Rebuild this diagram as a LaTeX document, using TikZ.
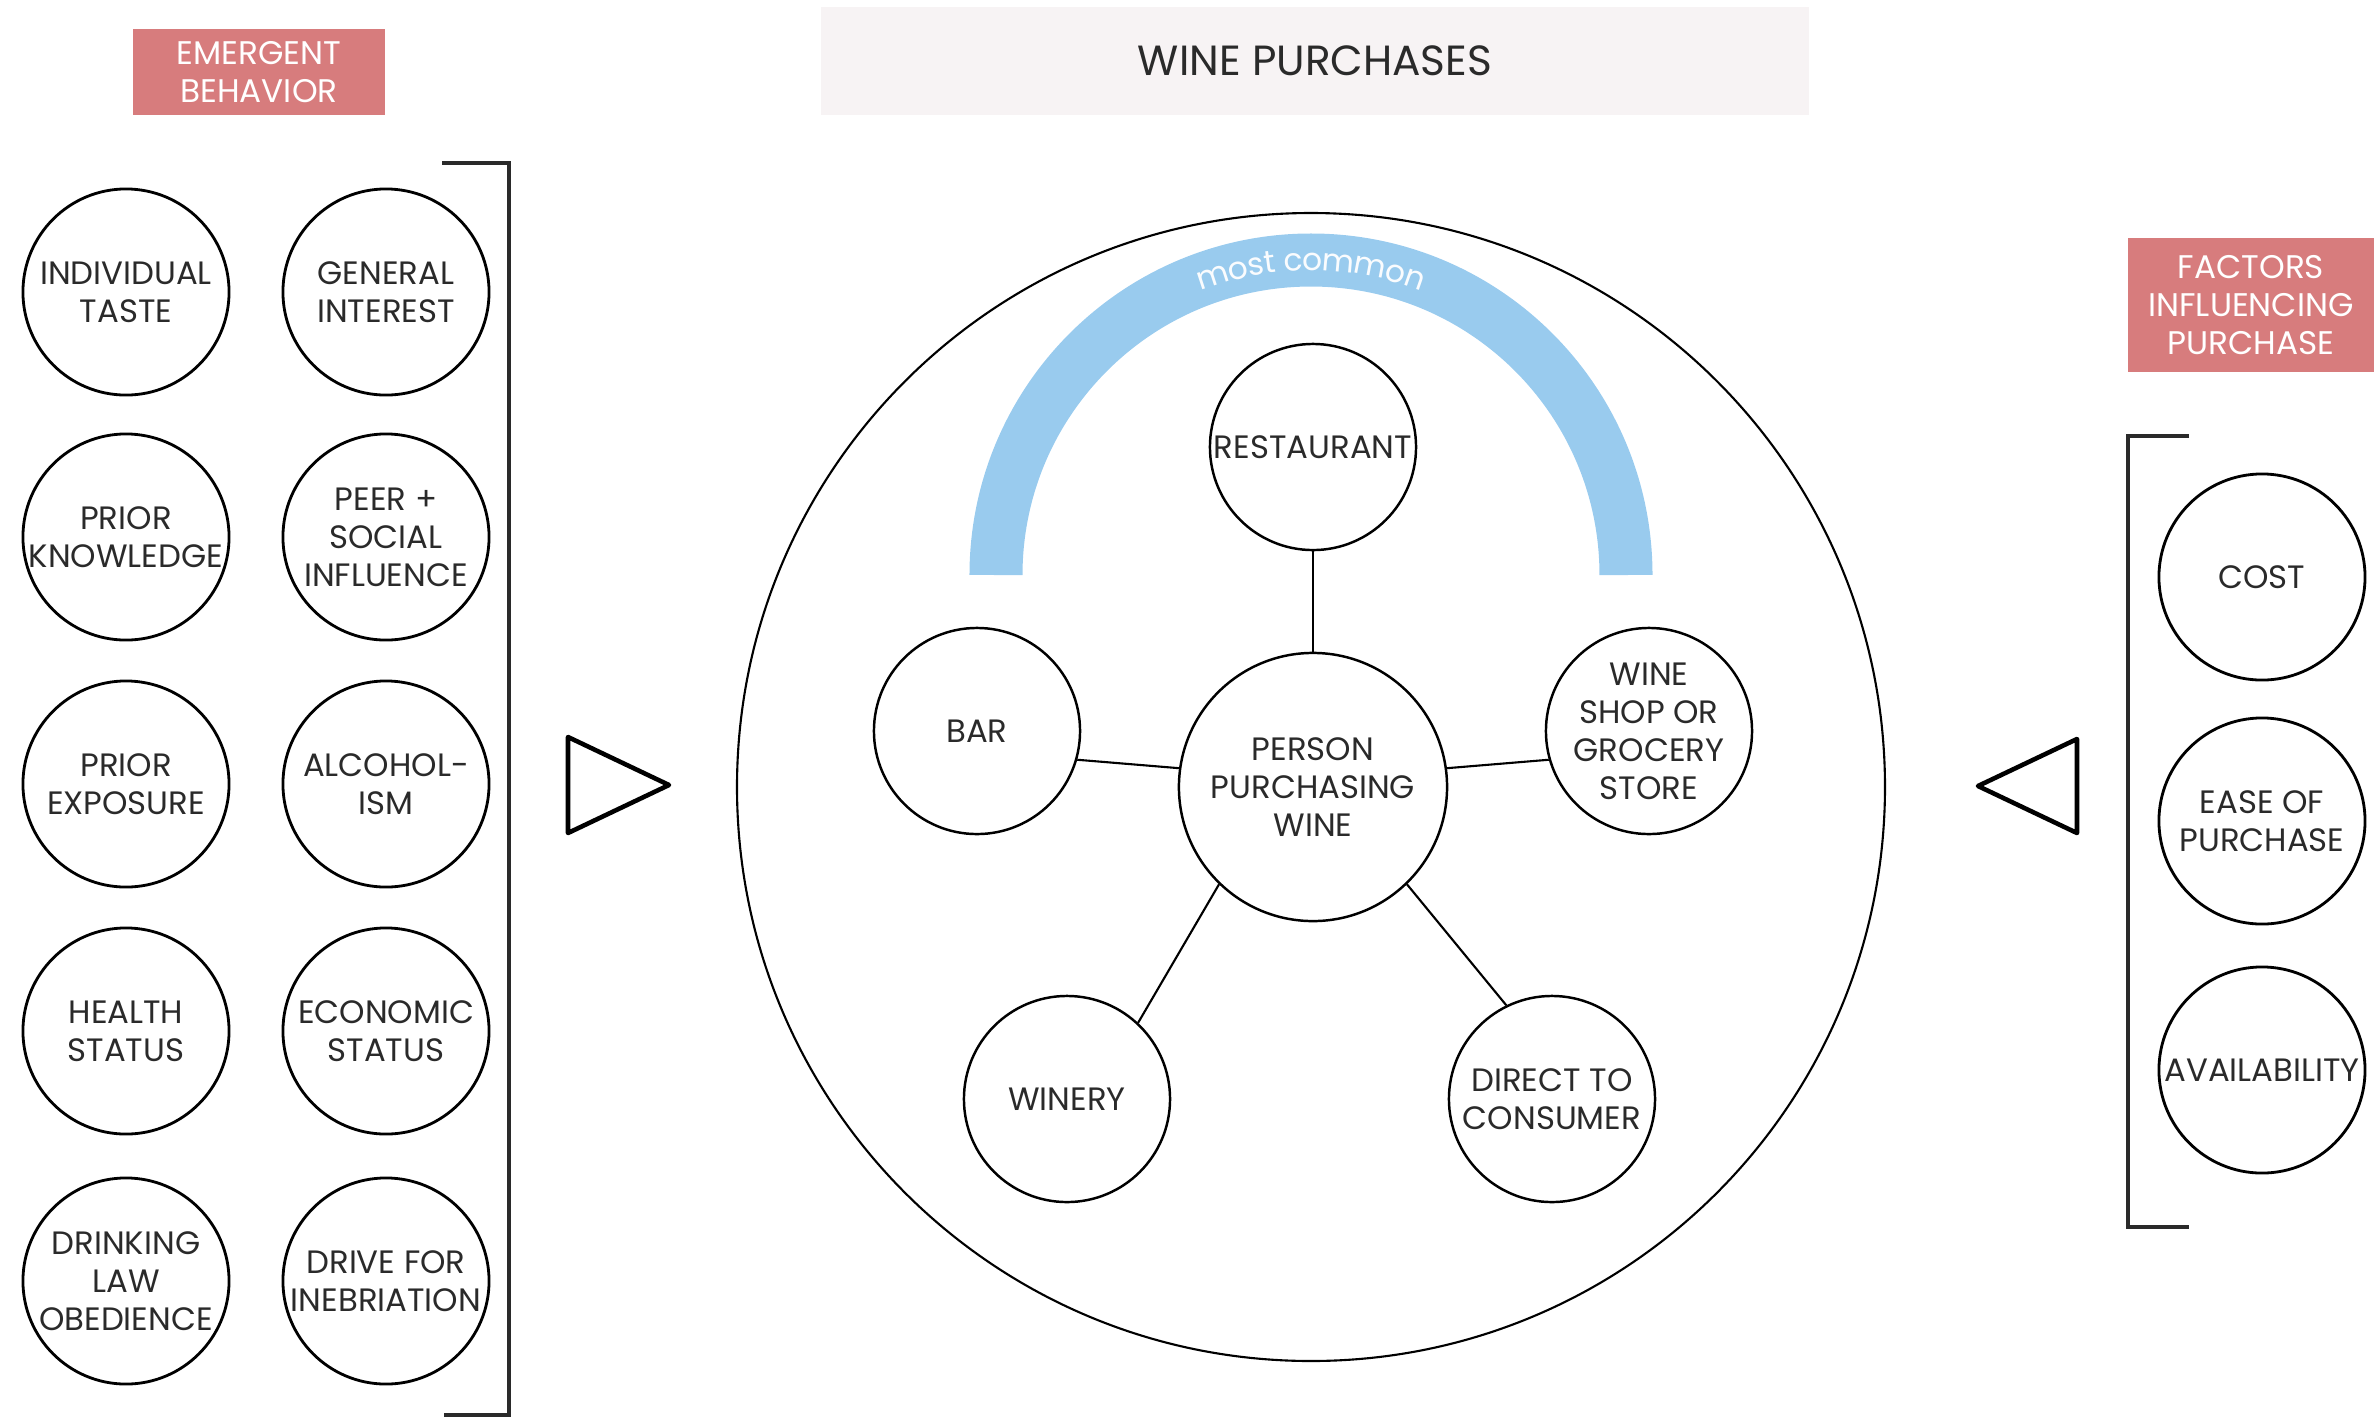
\documentclass[tikz,border=0pt]{standalone}
\usepackage{fontspec}
\setmainfont{Poppins}
\usetikzlibrary{decorations.text}

\definecolor{rose}{HTML}{D77C7D}
\definecolor{band}{HTML}{99CBEE}
\definecolor{paper}{HTML}{F7F3F4}
\definecolor{ink}{HTML}{2A2A2A}

\tikzset{
	factor/.style={circle, draw, line width=0.8pt, minimum size=2.06cm, inner sep=0pt, align=center, text=ink, font=\fontsize{9.2}{10.8}\selectfont},
	place/.style={factor, line width=0.7pt},
	header/.style={fill=rose, text=white, align=center, inner sep=0pt, font=\fontsize{9.3}{10.8}\selectfont},
	bracket/.style={line width=0.9pt, draw=ink},
	pointer/.style={line width=1.3pt, line join=round},
	link/.style={line width=0.6pt}
}

\begin{document}
\begin{tikzpicture}[x=0.01cm, y=-0.01cm]
	\useasboundingbox (0,0) rectangle (2374,1420);

	% titles
	\node[fill=paper, minimum width=9.88cm, minimum height=1.07cm, text=ink, font=\fontsize{12}{14}\selectfont] at (1315,61) (title) {WINE PURCHASES};
	\node[header, minimum width=2.51cm, minimum height=0.85cm] at (259,72) (emergent) {EMERGENT\\BEHAVIOR};
	\node[header, minimum width=2.46cm, minimum height=1.33cm] at (2251,305) (factors) {FACTORS\\INFLUENCING\\PURCHASE};

	% left column
	\node[factor] at (126,292) (taste) {INDIVIDUAL\\TASTE};
	\node[factor] at (386,292) (interest) {GENERAL\\INTEREST};
	\node[factor] at (126,537) (knowledge) {PRIOR\\KNOWLEDGE};
	\node[factor] at (386,537) (peer) {PEER +\\SOCIAL\\INFLUENCE};
	\node[factor] at (126,784) (exposure) {PRIOR\\EXPOSURE};
	\node[factor] at (386,784) (alcohol) {ALCOHOL-\\ISM};
	\node[factor] at (126,1031) (health) {HEALTH\\STATUS};
	\node[factor] at (386,1031) (economic) {ECONOMIC\\STATUS};
	\node[factor] at (126,1281) (law) {DRINKING\\LAW\\OBEDIENCE};
	\node[factor] at (386,1281) (drive) {DRIVE FOR\\INEBRIATION};
	\draw[bracket] (442,163) -- (509,163) -- (509,1415) -- (444,1415);
	\draw[pointer] (568,737) -- (568,833) -- (669,785) -- cycle;

	% right column
	\node[factor] at (2262,577) (cost) {COST};
	\node[factor] at (2262,821) (ease) {EASE OF\\PURCHASE};
	\node[factor] at (2262,1070) (avail) {AVAILABILITY};
	\draw[bracket] (2189,436) -- (2128,436) -- (2128,1227) -- (2189,1227);
	\draw[pointer] (2077,739) -- (2077,833) -- (1978,786) -- cycle;

	% purchase places
	\draw[line width=0.6pt] (1311,787) circle[radius=574];
	\draw[band, line width=0.53cm] (996,575) arc[start angle=180, end angle=360, radius=315];
	\path[decorate, decoration={text along path, text={|\fontsize{8.9}{10}\selectfont|most common}, text align=center, text color=white!95!band, raise=-3pt}] (996,575) arc[start angle=180, end angle=360, radius=315];

	\node[place, minimum size=2.68cm] at (1313,787) (person) {PERSON\\PURCHASING\\WINE};
	\node[place] at (1313,447) (restaurant) {RESTAURANT};
	\node[place] at (977,731) (bar) {BAR};
	\node[place] at (1649,731) (shop) {WINE\\SHOP OR\\GROCERY\\STORE};
	\node[place] at (1067,1099) (winery) {WINERY};
	\node[place] at (1552,1099) (direct) {DIRECT TO\\CONSUMER};

	\draw[link] (person) -- (restaurant);
	\draw[link] (person.172) -- (bar.-16);
	\draw[link] (person.8) -- (shop.196);
	\draw[link] (person.-134) -- (winery.47);
	\draw[link] (person.-46) -- (direct.116);
\end{tikzpicture}
\end{document}
